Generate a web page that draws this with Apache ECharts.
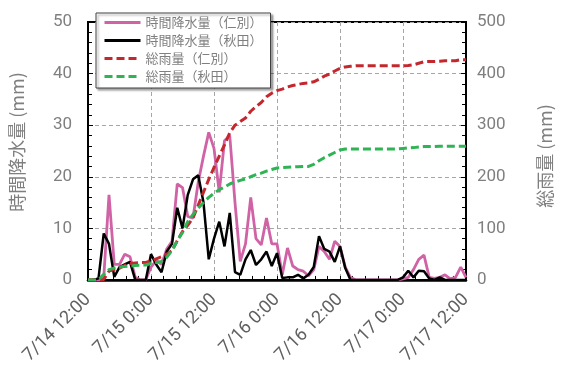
<!DOCTYPE html>
<html>
<head>
<meta charset="utf-8">
<script src="https://cdn.jsdelivr.net/npm/echarts@6/dist/echarts.min.js"></script>
<style>
  html, body { margin: 0; padding: 0; background: #fff; }
  #chart { width: 562px; height: 367px; }
</style>
</head>
<body>
<div id="chart"></div>
<script>
// Hourly tick labels (every 12 h from 7/14 12:00)
const tickLabels = ['7/14 12:00', '7/15 0:00', '7/15 12:00', '7/16 0:00', '7/16 12:00', '7/17 0:00', '7/17 12:00'];

// Hourly rainfall (mm), 7/14 12:00 .. 7/17 12:00
const hourlyNibetsu = [
  0, 0, 0, 0.5, 16.5, 3, 3, 5, 4.5, 0.5, 0, 0,
  2.5, 3.8, 3, 6, 7.5, 18.6, 17.9, 12.3, 12, 19, 24, 28.6,
  25.5, 17, 27, 28, 15, 3.6, 7, 16, 8, 6.8, 12, 7,
  7, 1, 6.2, 2.7, 2, 1.7, 0.8, 2, 6.5, 5.5, 4, 7.5,
  6.5, 2.5, 0.5, 0, 0, 0, 0, 0, 0, 0, 0, 0,
  0.2, 0.5, 2, 4, 4.8, 0.5, 0.3, 0.5, 1, 0.2, 0.5, 2.5,
  0.5
];
const hourlyAkita = [
  0, 0, 0.3, 9, 7, 0.6, 2.5, 3, 3.5, 0, 0, 0,
  5, 3, 1.5, 5.5, 7, 14, 10, 16.5, 19.5, 20.3, 15, 4,
  8, 11.3, 6.5, 13, 1.5, 1, 4, 5.8, 2.9, 4, 5.5, 2.7,
  5.2, 0.4, 0.5, 0.5, 1, 0.3, 1, 2.5, 8.5, 6, 5.5, 3.5,
  6.5, 2.3, 0, 0, 0, 0, 0, 0, 0, 0, 0, 0,
  0.5, 1.8, 0.5, 1.8, 1.7, 0.3, 0, 0.5, 0, 0, 0, 0,
  0
];

// Accumulated rainfall (mm)
const totalNibetsu = [
  0, 0, 0, 1, 17, 20, 23, 28, 32, 33, 33.5, 34,
  37, 41, 45, 50, 57, 76, 94, 106, 120, 145, 170, 195,
  218, 240, 262, 285, 300, 307, 314, 327, 336, 344, 355, 362,
  367, 370, 374, 377, 379, 381, 382, 384, 389, 395, 399, 405,
  410, 413, 414, 415, 415, 415, 415, 415, 415, 415, 415, 415,
  415, 415.5, 417, 420, 423, 423.5, 423.5, 424, 425, 425, 425, 427,
  427
];
const totalAkita = [
  0, 0, 0, 11, 20, 23, 25, 26, 27, 28, 28.5, 29,
  32, 34, 36, 44, 57, 76, 92, 113, 127, 139, 150, 160,
  168, 175, 180, 186, 190, 193, 196, 200, 204, 207, 211, 214,
  217, 218, 218.5, 219, 219.5, 220, 220, 224, 231, 237, 242, 247,
  252, 254, 254, 254, 254, 254, 254, 254, 254, 254, 254, 254,
  255, 256, 256.5, 257.5, 258.5, 258.5, 258.5, 259, 259, 259, 259, 259,
  259
];

const seriesNames = ['時間降水量（仁別）', '時間降水量（秋田）', '総雨量（仁別）', '総雨量（秋田）'];

const toPairs = arr => arr.map((v, i) => [i, v]);

const labelFont = "'Roboto', 'Noto Sans CJK JP', sans-serif";
const cjkFont = "'Noto Sans CJK JP', sans-serif";
const grey = '#7f7f7f';
const gridDash = { color: '#a6a6a6', width: 1, type: [4, 3] };

const chart = echarts.init(document.getElementById('chart'), null, { renderer: 'canvas' });

chart.setOption({
  animation: false,
  backgroundColor: '#fff',
  grid: {
    left: 84, right: 75, top: 22, bottom: 85,
    show: true, borderColor: '#000', borderWidth: 2
  },
  legend: {
    orient: 'vertical',
    left: 96, top: 13,
    itemWidth: 36, itemHeight: 14, itemGap: 5,
    padding: [3, 8, 5, 7],
    backgroundColor: '#fff',
    borderColor: '#404040', borderWidth: 1,
    shadowColor: 'rgba(0,0,0,0.35)', shadowOffsetX: 2, shadowOffsetY: 2, shadowBlur: 2,
    itemStyle: { opacity: 0, borderWidth: 0 },
    lineStyle: { width: 3 },
    textStyle: { fontFamily: cjkFont, fontSize: 13, color: grey },
    data: seriesNames
  },
  xAxis: {
    type: 'value',
    min: 0, max: 72, interval: 12,
    axisLine: { lineStyle: { color: '#000', width: 2.5 } },
    axisTick: { show: true, inside: true, length: 4, lineStyle: { color: '#000' } },
    minorTick: { show: true, splitNumber: 5, length: 4, lineStyle: { color: '#000' } },
    splitLine: { show: true, lineStyle: gridDash },
    axisLabel: {
      rotate: 45, margin: 17,
      fontFamily: labelFont, fontSize: 18, color: '#606060',
      formatter: v => tickLabels[Math.round(v / 12)]
    }
  },
  yAxis: [
    {
      type: 'value', min: 0, max: 50, interval: 10,
      name: '時間降水量 (mm)', nameLocation: 'middle', nameGap: 62, nameRotate: 90,
      nameTextStyle: { fontFamily: cjkFont, fontSize: 18, color: grey, padding: [0, 0, 0, 18] },
      axisLine: { show: true, lineStyle: { color: '#000', width: 2 } },
      axisTick: { show: true, inside: true, length: 5, lineStyle: { color: '#000' } },
      minorTick: { show: true, splitNumber: 5, length: 4, lineStyle: { color: '#000' } },
      splitLine: { show: true, lineStyle: gridDash },
      axisLabel: { margin: 16, fontFamily: labelFont, fontSize: 17, color: grey }
    },
    {
      type: 'value', min: 0, max: 500, interval: 100, position: 'right',
      name: '総雨量 (mm)', nameLocation: 'middle', nameGap: 70, nameRotate: 90,
      nameTextStyle: { fontFamily: cjkFont, fontSize: 18, color: grey, padding: [0, 10, 0, 0] },
      axisLine: { show: true, lineStyle: { color: '#000', width: 2 } },
      axisTick: { show: true, inside: true, length: 5, lineStyle: { color: '#000' } },
      minorTick: { show: true, splitNumber: 5, length: 4, lineStyle: { color: '#000' } },
      splitLine: { show: false },
      axisLabel: { margin: 11, fontFamily: labelFont, fontSize: 17, color: grey }
    }
  ],
  series: [
    {
      name: seriesNames[0], type: 'line', yAxisIndex: 0, symbol: 'none',
      data: toPairs(hourlyNibetsu),
      lineStyle: { color: '#d062a6', width: 2.8 }, itemStyle: { color: '#d062a6' }, z: 2
    },
    {
      name: seriesNames[1], type: 'line', yAxisIndex: 0, symbol: 'none',
      data: toPairs(hourlyAkita),
      lineStyle: { color: '#000', width: 2.5 }, itemStyle: { color: '#000' }, z: 3
    },
    {
      name: seriesNames[2], type: 'line', yAxisIndex: 1, symbol: 'none',
      data: toPairs(totalNibetsu),
      lineStyle: { color: '#c3282e', width: 3, type: [8, 4] }, itemStyle: { color: '#c3282e' }, z: 4
    },
    {
      name: seriesNames[3], type: 'line', yAxisIndex: 1, symbol: 'none',
      data: toPairs(totalAkita),
      lineStyle: { color: '#2eb454', width: 3, type: [8, 4] }, itemStyle: { color: '#2eb454' }, z: 5
    }
  ]
});
</script>
</body>
</html>
